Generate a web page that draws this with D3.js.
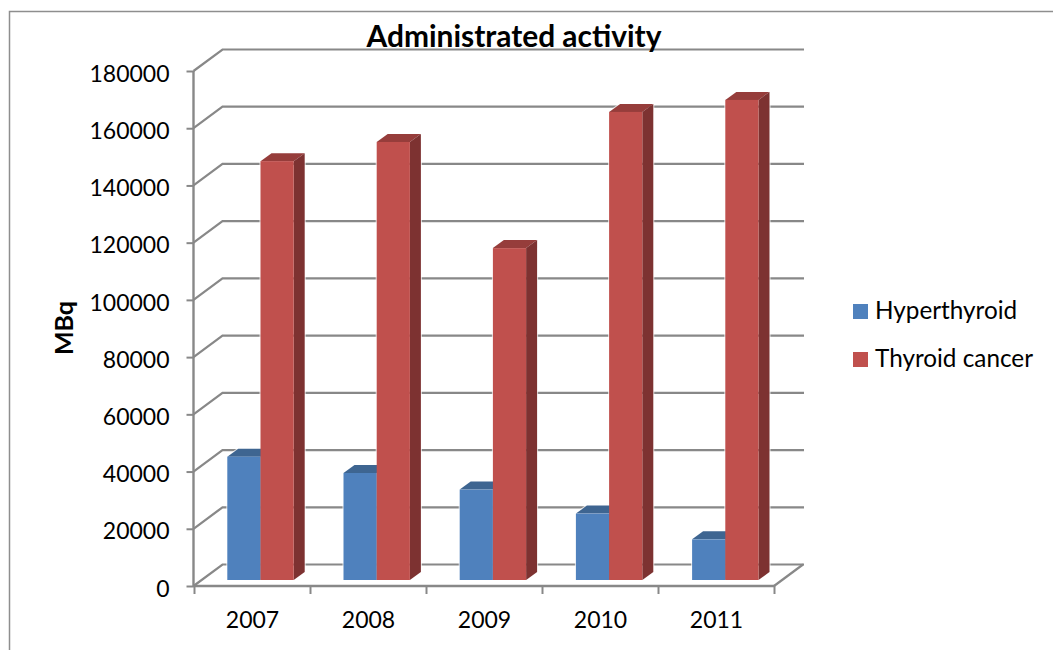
<!DOCTYPE html>
<html>
<head>
<meta charset="utf-8">
<script src="https://cdnjs.cloudflare.com/ajax/libs/d3/7.8.5/d3.min.js"></script>
<style>
  html, body { margin: 0; padding: 0; background: #fff; }
  svg { display: block; }
  text { font-family: Lato, "Open Sans", sans-serif; fill: #000; }
</style>
</head>
<body>
<svg id="chart" width="1053" height="650"></svg>
<script>
// Administered activity per year, in MBq
const years = ["2007", "2008", "2009", "2010", "2011"];
const hyperthyroid = [43100, 37400, 31600, 23200, 14200];
const thyroidCancer = [146400, 153100, 116000, 163600, 167800];
const seriesNames = ["Hyperthyroid", "Thyroid cancer"];
const yTicks = [0, 20000, 40000, 60000, 80000, 100000, 120000, 140000, 160000, 180000];

const palette = [
  { face: "#4f81bd", top: "#3e6591", side: "#365a85" },
  { face: "#c0504d", top: "#963d3b", side: "#7d3231" }
];
const gridColor = "#888888";

const svg = d3.select("#chart");

// Front plane of the 3-D box, and the offset to its back wall
const x = d3.scaleBand().domain(years).range([194.5, 774.5]);
const y = d3.scaleLinear().domain([0, 180000]).range([586, 71]);
const wall = { dx: 29, dy: -21.5 };

// Outer chart frame
svg.append("path")
  .attr("d", "M9.5,650V11.5H1053")
  .attr("fill", "none").attr("stroke", "#8e8e8e").attr("stroke-width", 1.5);

// Back wall gridlines and their slanted returns to the front plane
const grid = svg.append("g").attr("fill", "none").attr("stroke", gridColor).attr("stroke-width", 2.2);
grid.selectAll("path").data(yTicks).join("path")
  .attr("d", d => `M193.5,${y(d)}L${193.5 + wall.dx},${y(d) + wall.dy}H${774 + wall.dx + 1}`);
grid.append("path").attr("d", `M774,${y(0)}L${774 + wall.dx},${y(0) + wall.dy}`);

// Value axis
const yAxis = svg.append("g").attr("transform", "translate(193.5,0)")
  .call(d3.axisLeft(y).tickValues(yTicks).tickFormat(d3.format("d")).tickSize(7).tickPadding(17));
// Category axis, with its ticks on the boundaries between categories
const xAxis = svg.append("g").attr("transform", `translate(0,${y(0)})`)
  .call(d3.axisBottom(x).tickSize(8).tickPadding(18));
xAxis.selectAll(".tick line").remove();
xAxis.append("g").selectAll("line").data(d3.range(years.length + 1)).join("line")
  .attr("x1", i => x.range()[0] + i * x.step())
  .attr("x2", i => x.range()[0] + i * x.step())
  .attr("y1", 0).attr("y2", 8)
  .attr("stroke", gridColor).attr("stroke-width", 2);

[yAxis, xAxis].forEach(a => {
  a.select(".domain").attr("stroke", gridColor).attr("stroke-width", 2.4);
  a.selectAll(".tick line").attr("stroke", gridColor).attr("stroke-width", 2);
  a.selectAll("text").style("font-family", "Lato, sans-serif").style("font-size", "23px").attr("fill", "#000");
});
yAxis.selectAll("text").attr("dy", "0.44em");
xAxis.select(".domain").attr("d", `M193,0H775`);
yAxis.select(".domain").attr("d", `M0,${y(180000)}V${y(0)}`);

// 3-D columns: one band per year, each holding two columns side by side
const xColumns = d3.scaleBand().domain(years).range([227.3, 808.3]);
const barWidth = 33.2;
const depth = { dx: 11, dy: -8 };
const baseInset = 6;

function drawColumn(g, xLeft, value, colors) {
  const top = y(value) - baseInset;
  const base = y(0) - baseInset;
  const xRight = xLeft + barWidth;
  g.append("path")
    .attr("d", `M${xLeft},${top}L${xLeft + depth.dx},${top + depth.dy}H${xRight + depth.dx}L${xRight},${top}Z`)
    .attr("fill", colors.top);
  g.append("path")
    .attr("d", `M${xRight},${top}L${xRight + depth.dx},${top + depth.dy}V${base + depth.dy}L${xRight},${base}Z`)
    .attr("fill", colors.side);
  g.append("rect")
    .attr("x", xLeft).attr("y", top)
    .attr("width", barWidth).attr("height", base - top)
    .attr("fill", colors.face);
}

// A soft pale edge around every column, laid under all of them
const halos = svg.append("g").attr("fill", "none").attr("stroke", "#fff").attr("stroke-opacity", 0.75).attr("stroke-width", 2);
const bars = svg.append("g");
years.forEach((yr, i) => {
  const x0 = xColumns(yr);
  [hyperthyroid[i], thyroidCancer[i]].forEach((v, s) => {
    const left = x0 + s * barWidth;
    const top = y(v) - baseInset;
    const base = y(0) - baseInset;
    halos.append("path").attr("d",
      `M${left},${base}V${top}L${left + depth.dx},${top + depth.dy}H${left + barWidth + depth.dx}V${base + depth.dy}L${left + barWidth},${base}Z`);
  });
  drawColumn(bars.append("g"), x0, hyperthyroid[i], palette[0]);
  drawColumn(bars.append("g"), x0 + barWidth, thyroidCancer[i], palette[1]);
});

// Title and value-axis label
svg.append("text").attr("x", 514).attr("y", 46.5).attr("text-anchor", "middle")
  .attr("font-weight", 700).attr("font-size", 29.9).text("Administrated activity");
svg.append("text").attr("transform", "translate(73,328) rotate(-90)").attr("text-anchor", "middle")
  .attr("font-weight", 700).attr("font-size", 25).text("MBq");

// Legend
const legend = svg.append("g");
seriesNames.forEach((name, i) => {
  const row = legend.append("g").attr("transform", `translate(853,${304 + i * 48})`);
  row.append("rect").attr("width", 15).attr("height", 15).attr("fill", palette[i].face);
  row.append("text").attr("x", 22).attr("y", 14.5).attr("font-size", 24.3).text(name);
});
</script>
</body>
</html>
